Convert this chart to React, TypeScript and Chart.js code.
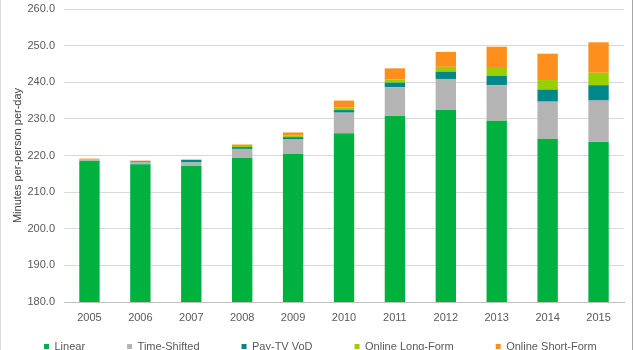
import React, { useEffect, useRef } from "react";
import { Chart, registerables } from "chart.js";

Chart.register(...registerables);

const years = ["2005", "2006", "2007", "2008", "2009", "2010", "2011", "2012", "2013", "2014", "2015"];
const linear = [218.6, 217.6, 217.1, 219.4, 220.5, 226.1, 230.8, 232.4, 229.5, 224.5, 223.7];
const timeShifted = [0.4, 0.5, 1.0, 2.4, 4.0, 5.6, 7.8, 8.5, 9.7, 10.2, 11.3];
const payTvVod = [0.05, 0.3, 0.7, 0.5, 0.5, 0.7, 1.3, 2.0, 2.5, 3.3, 4.2];
const onlineLongForm = [0.0, 0.1, 0.0, 0.3, 0.4, 0.7, 0.9, 1.3, 2.2, 2.6, 3.4];
const onlineShortForm = [0.1, 0.1, 0.1, 0.4, 0.9, 1.9, 3.0, 4.1, 5.8, 7.2, 8.3];
const yMin = 180;
const yMax = 260;
const yStep = 10;
const yTitle = "Minutes per-person per-day";

const FONT = "'Liberation Sans', Arial, sans-serif";

// lets the x tick labels draw below the (zero-height) x axis box, and nudges the legend row up
const layoutTweakPlugin = {
  id: "layoutTweak",
  afterLayout(chart: any) {
    const x = chart.scales.x;
    if (x) x.bottom = chart.height;
    const lg = chart.legend;
    if (lg) {
      lg.top -= 3;
      lg.bottom -= 3;
    }
  },
};

export default function App() {
  const ref = useRef<HTMLCanvasElement | null>(null);

  useEffect(() => {
    const canvas = ref.current;
    if (!canvas) return;
    const mk = (label: string, data: number[], color: string) => ({
      label,
      data,
      backgroundColor: color,
      borderWidth: 0,
      categoryPercentage: 1,
      barPercentage: 0.4,
    });
    const chart = new Chart(canvas, {
      type: "bar",
      data: {
        labels: years,
        datasets: [
          mk("Linear", linear, "#00B140"),
          mk("Time-Shifted", timeShifted, "#B4B4B4"),
          mk("Pay-TV VoD", payTvVod, "#00878A"),
          mk("Online Long-Form", onlineLongForm, "#99CF00"),
          mk("Online Short-Form", onlineShortForm, "#FF8F1C"),
        ],
      },
      plugins: [layoutTweakPlugin],
      options: {
        responsive: false,
        animation: false,
        layout: { padding: { left: 2, right: -40, top: 9, bottom: -15 } },
        plugins: {
          tooltip: { enabled: false },
          legend: {
            position: "bottom",
            align: "start",
            labels: {
              boxWidth: 5,
              boxHeight: 5,
              padding: 42,
              color: "#595959",
              font: { family: FONT, size: 11 },
            },
          },
        },
        scales: {
          x: {
            stacked: true,
            grid: { display: false, drawTicks: false },
            border: { display: true, color: "#BFBFBF" },
            ticks: { color: "#595959", font: { family: FONT, size: 11 }, padding: 9 },
            afterFit: (s: any) => {
              s.height = 0;
              s.paddingLeft = 0;
              s.paddingRight = 0;
            },
          },
          y: {
            stacked: true,
            min: yMin,
            max: yMax,
            border: { display: false },
            grid: {
              color: (c: any) => (c.tick && c.tick.value === yMin ? "#BFBFBF" : "#D9D9D9"),
              drawTicks: false,
            },
            ticks: {
              stepSize: yStep,
              color: "#595959",
              font: { family: FONT, size: 11 },
              padding: 9,
              callback: (v: any) => Number(v).toFixed(1),
            },
            title: {
              display: true,
              text: yTitle,
              color: "#404040",
              font: { family: FONT, size: 11 },
              padding: { top: 9, bottom: 0 },
            },
            afterFit: (s: any) => {
              s.width = 62;
              s.paddingTop = 0;
              s.paddingBottom = 0;
            },
          },
          yRight: {
            type: "linear",
            position: "right",
            display: true,
            grid: { display: false, drawTicks: false },
            border: { display: false },
            ticks: { display: false },
            afterFit: (s: any) => {
              s.width = 49;
            },
          },
        },
      },
    });
    return () => chart.destroy();
  }, []);

  return (
    <div style={{ position: "absolute", left: 0, top: 0, width: 633, height: 350, background: "#fff", overflow: "hidden" }}>
      <canvas ref={ref} width={633} height={350} style={{ width: 633, height: 350, display: "block" }} />
      <div
        style={{
          position: "absolute",
          left: 0,
          top: 0,
          width: 633,
          height: 350,
          boxSizing: "border-box",
          borderLeft: "1px solid #D9D9D9",
          borderRight: "1px solid #A6A6A6",
          pointerEvents: "none",
        }}
      />
    </div>
  );
}
